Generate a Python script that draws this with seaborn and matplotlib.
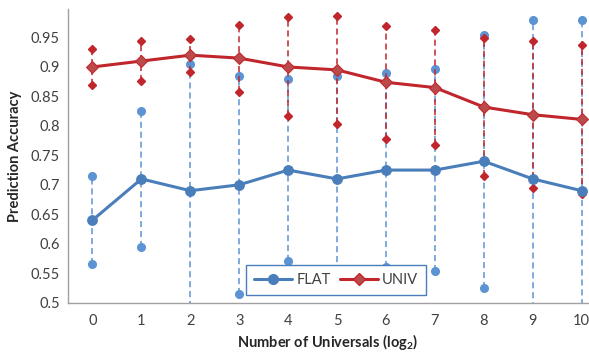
import numpy as np
import pandas as pd
import matplotlib
matplotlib.use("Agg")
import matplotlib.pyplot as plt
import seaborn as sns

# Data
universals = [0, 1, 2, 3, 4, 5, 6, 7, 8, 9, 10]
flat_mean = [0.64, 0.71, 0.69, 0.70, 0.725, 0.71, 0.725, 0.725, 0.74, 0.71, 0.69]
flat_err = [0.075, 0.115, 0.215, 0.185, 0.155, 0.175, 0.164, 0.172, 0.215, 0.27, 0.29]
univ_mean = [0.90, 0.91, 0.92, 0.915, 0.90, 0.895, 0.874, 0.865, 0.832, 0.819, 0.811]
univ_err = [0.030, 0.034, 0.028, 0.057, 0.084, 0.092, 0.096, 0.098, 0.117, 0.125, 0.127]
y_ticks = [0.5, 0.55, 0.6, 0.65, 0.7, 0.75, 0.8, 0.85, 0.9, 0.95]
y_ticklabels = ["0.5", "0.55", "0.6", "0.65", "0.7", "0.75", "0.8", "0.85", "0.9", "0.95"]

BLUE = "#4A7EBB"
BLUE_LIGHT = "#5B93D3"
RED = "#C0262C"
RED_FILL = "#BB4A4A"

sns.set_theme(style="white")
plt.rcParams["font.family"] = ["Lato", "DejaVu Sans"]
plt.rcParams["mathtext.fontset"] = "custom"
plt.rcParams["mathtext.bf"] = "Lato:bold"
plt.rcParams["mathtext.rm"] = "Lato"

df = pd.DataFrame({
    "x": universals * 2,
    "acc": flat_mean + univ_mean,
    "series": ["FLAT"] * len(universals) + ["UNIV"] * len(universals),
})

fig = plt.figure(figsize=(5.89, 3.54), dpi=100)
ax = fig.add_axes([0.1155, 0.145, 0.882, 0.829])

# error bars (dashed, with marker caps)
for mean, err, col, cap_marker, cap_size in [
    (flat_mean, flat_err, BLUE_LIGHT, "o", 5.5),
    (univ_mean, univ_err, RED, "D", 4),
]:
    eb = ax.errorbar(universals, mean, yerr=err, fmt="none", ecolor=col,
                     elinewidth=1.1, capsize=3, zorder=2)
    eb[2][0].set_linestyle((0, (4, 2.5)))
    for cl in eb[1]:
        cl.set_marker(cap_marker)
        cl.set_markersize(cap_size)
        cl.set_markerfacecolor(col)
        cl.set_markeredgecolor(col)

sns.lineplot(data=df, x="x", y="acc", hue="series", style="series",
             palette={"FLAT": BLUE, "UNIV": RED},
             markers={"FLAT": "o", "UNIV": "D"}, dashes=False,
             linewidth=2.2, markersize=7, ax=ax, zorder=3, legend=False)

# marker fills
for ln in ax.get_lines():
    if ln.get_color() == RED and ln.get_marker() == "D" and len(ln.get_xdata()) == len(universals):
        ln.set_markerfacecolor(RED_FILL)
        ln.set_markeredgecolor(RED)
        ln.set_markersize(6.5)
    if ln.get_color() == BLUE and ln.get_marker() == "o":
        ln.set_markerfacecolor(BLUE)
        ln.set_markeredgecolor(BLUE)

ax.set_xlim(-0.5, 10.12)
ax.set_ylim(0.5, 0.998)
ax.set_xticks(universals)
ax.set_yticks(y_ticks)
ax.set_yticklabels(y_ticklabels)
ax.tick_params(axis="both", labelsize=10.5, colors="#404040", length=0, pad=6)
ax.tick_params(axis="x", pad=8)

for s in ["top", "right"]:
    ax.spines[s].set_visible(False)
for s in ["left", "bottom"]:
    ax.spines[s].set_color("#A0A0A0")
    ax.spines[s].set_linewidth(1)

ax.set_ylabel("Prediction Accuracy", fontsize=10.5, fontweight="bold", color="#262626", labelpad=6)
ax.set_xlabel(r"Number of Universals (log$_\mathbf{2}$)", fontsize=10.5,
              fontweight="bold", color="#262626", labelpad=3)

h_flat = plt.Line2D([], [], color=BLUE, lw=2.2, marker="o", markersize=7)
h_univ = plt.Line2D([], [], color=RED, lw=2.2, marker="D", markersize=6.5,
                    markerfacecolor=RED_FILL, markeredgecolor=RED)
leg = ax.legend([h_flat, h_univ], ["FLAT", "UNIV"], ncol=2, loc="lower center",
                bbox_to_anchor=(0.516, 0.0), frameon=True, fancybox=False,
                fontsize=10.5, handlelength=2.6, columnspacing=0.6,
                handletextpad=0.3, borderpad=0.55, framealpha=1)
leg.get_frame().set_edgecolor(BLUE)
leg.get_frame().set_linewidth(1)
for t in leg.get_texts():
    t.set_color("#404040")

fig.savefig("out.png", dpi=100)
